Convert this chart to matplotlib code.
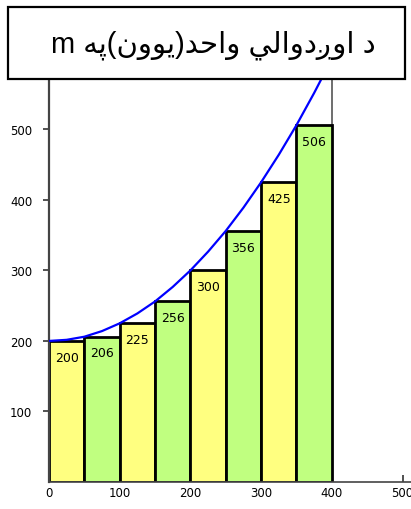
import matplotlib
matplotlib.use("Agg")
import matplotlib.pyplot as plt
from matplotlib.patches import Rectangle

# ---- data ----
bar_left = [0, 50, 100, 150, 200, 250, 300, 350]
bar_width = 50
bar_values = [200, 206, 225, 256, 300, 356, 425, 506]
bar_colors = ["#FFFF80", "#C0FF80", "#FFFF80", "#C0FF80",
              "#FFFF80", "#C0FF80", "#FFFF80", "#C0FF80"]
curve_x = [0, 25, 50, 75, 100, 125, 150, 175, 200, 225, 250, 275, 300, 325, 350, 375, 400]
curve_y = [200, 201.6, 206, 214, 225, 239, 256, 276.6, 300, 326.6, 356, 389, 425, 464, 506, 551.6, 600]
xticks = [0, 100, 200, 300, 400, 500]
yticks = [100, 200, 300, 400, 500]
# title (logical: "د اوږدوالي واحد(یوون)په m"), stored in visual order with shaped forms
title_visual = ("m " + "\uFEEA\uFB58" + "(" + "\uFEE5\uFEED\uFEEE\uFEF3" + ")"
                + "\uFEAA\uFEA3\uFE8D\uFEED" + " "
                + "\uFEF2\uFEDF\uFE8D\uFEED\uFEA9\u0696\uFEED\uFE8D" + " " + "\uFEA9")

W, H = 411, 510
fig = plt.figure(figsize=(W / 100, H / 100), dpi=100)
ax = fig.add_axes([49 / W, 1 - 483 / H, (W - 49) / W, (483 - 81) / H])

ax.bar(bar_left, bar_values, width=bar_width, align="edge", color=bar_colors,
       edgecolor="black", linewidth=2.0, zorder=2)
ax.plot(curve_x, curve_y, color="#0000FF", lw=1.6, zorder=3, clip_on=True)
ax.axvline(400, color="#555555", lw=1.2, zorder=1)

for l, v in zip(bar_left, bar_values):
    ax.annotate(str(v), (l + bar_width / 2, v), xytext=(0, -7), textcoords="offset points",
                ha="center", va="top", fontsize=9, family="DejaVu Sans", zorder=4)

ax.set_xlim(0, 512)
ax.set_ylim(0, 570)
ax.set_xticks(xticks)
ax.set_yticks(yticks)
ax.set_xticklabels([str(t) for t in xticks])
ax.set_yticklabels([str(t) for t in yticks])
for s in ["top", "right"]:
    ax.spines[s].set_visible(False)
ax.spines["left"].set_color("#444444")
ax.spines["left"].set_linewidth(1.6)
ax.spines["bottom"].set_color("#444444")
ax.spines["bottom"].set_linewidth(1.2)
ax.tick_params(axis="y", direction="out", length=4, width=1.2, labelsize=8.5, pad=8, color="#333333")
ax.tick_params(axis="x", direction="in", length=5, width=1.2, labelsize=8.5, pad=3, color="#333333")

# title box
fig.add_artist(Rectangle((8 / W, 1 - 80 / H), (405 - 8) / W, (80 - 8) / H,
                         transform=fig.transFigure, fill=False, edgecolor="black", lw=1.6))
fig.text(213 / W, 1 - 45 / H, title_visual, ha="center", va="center", fontsize=21,
         family=["Liberation Sans", "DejaVu Sans"])

fig.savefig("out.png", dpi=100)
